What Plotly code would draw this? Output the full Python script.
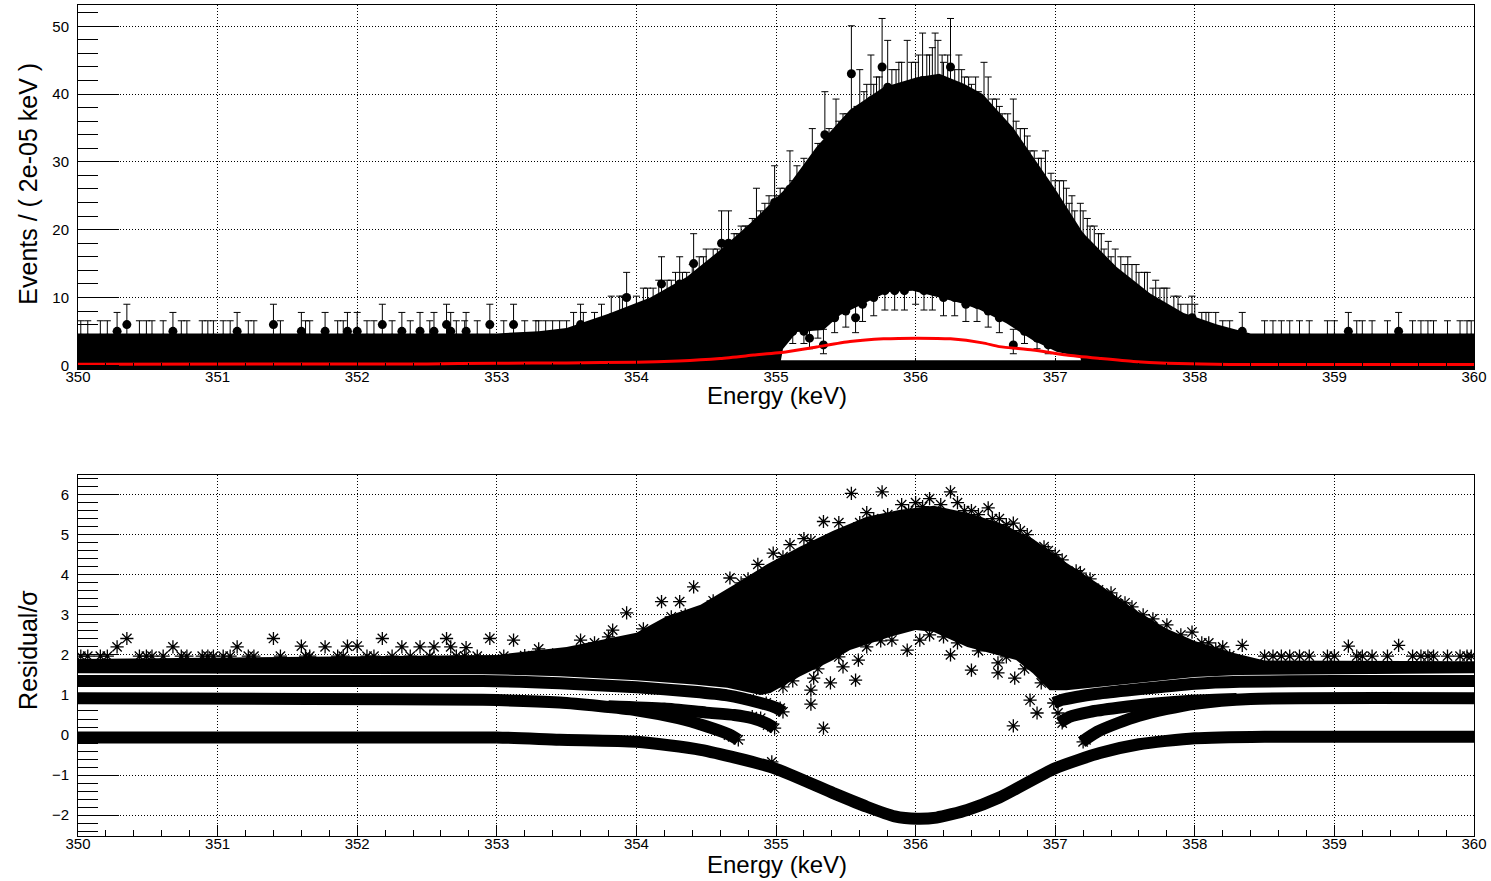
import numpy as np
import plotly.graph_objects as go

# ======================= DATA =======================
# ---- top panel: counts per 2e-05 keV bin ----
# upper envelope of the dense cloud of points + error bars
env_x = [350.0, 353.0, 353.3, 353.5, 353.8, 354.1, 354.36, 354.6, 354.84, 355.08, 355.29,
         355.53, 355.77, 356.01, 356.17, 356.35, 356.48, 356.7, 357.0, 357.2, 357.44,
         357.68, 357.92, 358.16, 358.4, 360.0]
env_y = [4.7, 4.7, 5.0, 5.5, 7.6, 10.0, 13.0, 17.0, 21.4, 26.3, 32.2,
         37.7, 41.0, 42.5, 43.0, 41.5, 40.0, 35.0, 26.0, 19.5, 14.5,
         10.6, 7.7, 6.0, 4.7, 4.7]
# lower edge of the cloud above the empty region under the peak
hole_x = [355.02, 355.05, 355.15, 355.34, 355.46, 355.65, 355.8, 355.98, 356.17, 356.32,
          356.46, 356.65, 356.84, 357.01, 357.18, 357.2]
hole_y = [-1.0, 2.4, 4.9, 5.2, 7.4, 9.3, 10.8, 11.0, 10.0, 9.2,
          8.2, 6.2, 3.7, 2.0, 1.2, -1.0]
# row of empty bins
zero_x = [350.0, 360.0]
zero_y = [0.0, 0.0]
# fitted model (red curve)
model_x = [350.0, 352.5, 353.0, 353.5, 354.0, 354.3, 354.6, 354.84, 355.08, 355.29, 355.53,
           355.77, 356.01, 356.25, 356.48, 356.6, 356.84, 357.08, 357.32, 357.56, 357.8,
           358.25, 360.0]
model_y = [0.15, 0.2, 0.3, 0.35, 0.45, 0.63, 1.0, 1.5, 2.0, 2.7, 3.5,
           3.9, 4.0, 3.9, 3.3, 2.75, 2.25, 1.5, 1.0, 0.55, 0.3,
           0.12, 0.1]
# background bins with 4 counts (comb of error-bar caps)
comb_x = [350.02, 350.07, 350.16, 350.21, 350.44, 350.49, 350.53, 350.61, 350.74, 350.78,
          350.89, 350.93, 350.97, 351.04, 351.09, 351.22, 351.26, 351.45, 351.63, 351.66,
          351.86, 351.90, 352.07, 352.12, 352.25, 352.38, 352.52, 352.71, 352.77, 352.86,
          353.05, 353.2, 353.28, 353.4, 353.5,
          358.2, 358.25, 358.5, 358.56, 358.62, 358.68, 358.75, 358.82, 358.95, 359.0,
          359.16, 359.2, 359.27, 359.38, 359.56, 359.62, 359.67, 359.71, 359.81, 359.9,
          359.95, 359.98]
comb_n = [4, 4, 4, 4, 4, 4, 4, 4, 4, 4,
          4, 4, 4, 4, 4, 4, 4, 4, 4, 4,
          4, 4, 4, 4, 4, 4, 4, 4, 4, 4,
          4, 4, 4, 4, 4,
          4, 4, 4, 4, 4, 4, 4, 4, 4, 4,
          4, 4, 4, 4, 4, 4, 4, 4, 4, 4,
          4, 4]
comb_res = [1.97, 1.97, 1.97, 1.97, 1.97, 1.97, 1.97, 1.97, 1.97, 1.97,
            1.97, 1.97, 1.97, 1.97, 1.97, 1.97, 1.97, 1.97, 1.97, 1.97,
            1.97, 1.97, 1.97, 1.97, 1.97, 1.97, 1.97, 1.97, 1.97, 1.97,
            1.97, 1.98, 1.98, 2.0, 2.0,
            1.98, 1.98, 1.97, 1.97, 1.97, 1.97, 1.97, 1.97, 1.97, 1.97,
            1.97, 1.97, 1.97, 1.97, 1.97, 1.97, 1.97, 1.97, 1.97, 1.97,
            1.97, 1.97]
# background bins with 5-6 counts
bg_x = [350.28, 350.35, 350.68, 351.14, 351.40, 351.60, 351.77, 351.93, 352.00, 352.18,
        352.32, 352.45, 352.55, 352.64, 352.67, 352.78, 352.95, 358.34, 359.10, 359.46]
bg_n = [5, 6, 5, 5, 6, 5, 5, 5, 5, 6,
        5, 5, 5, 6, 5, 5, 6, 5, 5, 5]
bg_res = [2.2, 2.41, 2.2, 2.2, 2.41, 2.22, 2.2, 2.22, 2.22, 2.41,
          2.2, 2.2, 2.2, 2.41, 2.2, 2.18, 2.41, 2.24, 2.22, 2.24]
# points on the outer edge of the peak (isolated high ones)
edge_x = [353.12, 353.6, 353.82, 353.93, 354.18, 354.31, 354.41, 354.61, 354.66, 354.86,
          354.99, 355.1, 355.26, 355.35, 355.43, 355.54, 355.6, 355.68, 355.76, 355.8,
          355.94, 356.05, 356.14, 356.16, 356.25, 356.31, 356.35, 356.49, 356.52, 356.7,
          356.78, 356.82, 356.93, 357.06, 357.18, 357.31, 357.43, 357.64, 357.7, 357.98]
edge_n = [6, 6, 7, 10, 12, 12, 15, 18, 18, 21,
          24, 26, 29, 34, 33, 43, 37, 39, 44, 41,
          41, 42, 42, 41, 44, 39, 36, 38, 36, 33,
          29, 26, 26, 22, 19, 15, 13, 10, 8, 7]
# points forming the ragged outer edge of the peak
flank_x = [353.3, 353.45, 353.55, 353.7, 353.75, 353.88, 354.0, 354.05, 354.12, 354.22,
           354.28, 354.36, 354.45, 354.5, 354.55, 354.7, 354.75, 354.8, 354.92, 354.95,
           355.03, 355.15, 355.2, 355.3, 355.38, 355.48, 355.65, 355.72, 355.86, 355.9,
           356.0, 356.08, 356.2, 356.28, 356.4, 356.45, 356.58, 356.62, 356.75, 356.88,
           357.0, 357.1, 357.14, 357.25, 357.35, 357.4, 357.5, 357.55, 357.6, 357.75,
           357.8, 357.85, 357.9, 358.05, 358.1, 358.15,
           353.35, 353.62, 353.9, 354.08, 354.16, 354.25, 354.33, 354.4, 354.48, 354.58,
           354.63, 354.72, 354.78, 354.83, 354.89, 354.97, 355.0, 355.06, 355.12, 355.18,
           355.23, 355.33, 355.4, 355.45, 355.51, 355.58, 355.63, 355.7, 355.74, 355.83,
           355.88, 355.97, 356.02, 356.1, 356.12, 356.19, 356.23, 356.33, 356.38, 356.43,
           356.55, 356.6, 356.66, 356.72, 356.8, 356.85, 356.9, 356.97, 357.03, 357.08,
           357.12, 357.2, 357.23, 357.28, 357.33, 357.38, 357.47, 357.52, 357.58, 357.66,
           357.72, 357.78, 357.88, 357.95, 358.0, 358.08]
flank_n = [4, 4, 5, 5, 6, 7, 7, 8, 8, 9,
           10, 10, 12, 13, 13, 15, 16, 16, 19, 20,
           21, 24, 25, 27, 29, 31, 35, 36, 37, 38,
           38, 39, 38, 37, 35, 34, 33, 31, 29, 25,
           22, 19, 18, 16, 13, 12, 11, 11, 10, 8,
           8, 7, 6, 5, 5, 5,
           4, 5, 7, 8, 9, 9, 10, 11, 12, 13,
           14, 15, 16, 17, 18, 19, 20, 21, 22, 23,
           24, 27, 28, 30, 31, 32, 34, 35, 36, 37,
           38, 38, 39, 39, 40, 39, 39, 37, 36, 36,
           33, 32, 31, 30, 28, 26, 25, 23, 22, 21,
           20, 18, 17, 16, 15, 14, 12, 12, 11, 10,
           9, 8, 7, 6, 6, 5]
# points on the lower edge of the cloud, above the empty region
inner_x = [355.12, 355.2, 355.24, 355.3, 355.34, 355.42, 355.5, 355.57, 355.62, 355.7,
           355.78, 355.85, 355.92, 356.0, 356.06, 356.12, 356.2, 356.28, 356.36, 356.44,
           356.52, 356.6, 356.7, 356.78, 356.87, 356.95]
inner_n = [5, 5, 4, 6, 3, 7, 8, 7, 9, 10,
           11, 11, 11, 12, 11, 11, 10, 10, 9, 9,
           8, 7, 3, 5, 4, 3]

# ---- bottom panel: residual / sigma ----
res_top_x = [350.0, 353.0, 353.5, 354.0, 354.21, 354.46, 354.7, 354.93, 355.17, 355.41,
             355.65, 355.89, 356.13, 356.37, 356.6, 356.84, 357.08, 357.32, 357.56, 357.8,
             358.0, 358.28, 358.5, 360.0]
res_top_y = [1.9, 2.0, 2.2, 2.55, 2.95, 3.25, 3.75, 4.25, 4.7, 5.1,
             5.45, 5.62, 5.72, 5.55, 5.3, 4.9, 4.3, 3.75, 3.15, 2.65,
             2.35, 2.05, 1.86, 1.84]
res_low_x = [350.0, 352.9, 353.45, 354.0, 354.41, 354.65, 354.89, 354.96, 355.17, 355.41,
             355.53, 355.82, 356.0, 356.13, 356.37, 356.53, 356.72, 356.84, 356.96, 357.08,
             357.3, 357.56, 358.0, 358.32, 360.0]
res_low_y = [1.54, 1.52, 1.47, 1.37, 1.26, 1.18, 1.0, 1.05, 1.46, 1.87,
             2.12, 2.45, 2.62, 2.57, 2.2, 2.04, 1.87, 1.54, 1.12, 1.12,
             1.2, 1.3, 1.45, 1.5, 1.54]
# empty-bin residual band
band0_x = [350.0, 353.0, 353.45, 354.0, 354.46, 354.98, 355.41, 355.65, 355.85, 356.01,
           356.15, 356.37, 356.6, 357.0, 357.32, 357.6, 358.0, 358.5, 360.0]
band0_y = [-0.06, -0.06, -0.12, -0.17, -0.37, -0.82, -1.45, -1.79, -2.03, -2.09,
           -2.06, -1.87, -1.56, -0.83, -0.45, -0.23, -0.08, -0.04, -0.04]
# 2-count band (left / right)
band2l_x = [350.0, 352.9, 353.45, 354.0, 354.41, 354.65, 354.89, 355.0, 355.05]
band2l_y = [1.35, 1.35, 1.29, 1.19, 1.08, 0.99, 0.8, 0.68, 0.58]
band2r_x = [356.99, 357.05, 357.15, 357.3, 357.56, 358.0, 358.32, 359.0, 360.0]
band2r_y = [0.8, 0.88, 0.95, 1.03, 1.13, 1.28, 1.33, 1.35, 1.35]
# 1-count bands (left / right, two branches each)
band1l_x = [350.0, 351.65, 352.9, 353.45, 354.0, 354.3, 354.5, 354.66, 354.73]
band1l_y = [0.92, 0.9, 0.88, 0.81, 0.62, 0.42, 0.22, 0.02, -0.12]
band1m_x = [353.8, 354.2, 354.5, 354.7, 354.83, 354.94, 354.99]
band1m_y = [0.72, 0.66, 0.56, 0.5, 0.42, 0.28, 0.17]
band1r_x = [357.19, 357.3, 357.45, 357.6, 357.8, 358.0, 358.4, 360.0]
band1r_y = [-0.17, 0.08, 0.3, 0.48, 0.65, 0.78, 0.9, 0.92]
band1s_x = [357.03, 357.1, 357.25, 357.45, 357.7, 358.0, 358.3]
band1s_y = [0.3, 0.45, 0.58, 0.68, 0.78, 0.86, 0.9]
# individually visible residual points
rpt_x = [353.12, 353.6, 353.83, 353.93, 354.18, 354.31, 354.41, 354.67, 354.87, 354.98,
         355.1, 355.2, 355.34, 355.45, 355.54, 355.65, 355.76, 355.9, 356.0, 356.1,
         356.25, 356.3, 356.4, 356.52, 356.6, 356.7, 356.8, 356.92, 357.0, 357.05,
         357.18, 357.31, 357.44, 357.5, 357.63, 357.8, 357.98, 358.1, 358.2,
         355.94, 356.03, 356.25, 356.4, 356.59, 356.59, 356.71, 356.82, 356.87, 356.7,
         356.99, 355.27, 355.25, 355.25, 355.34, 355.57, 355.48, 355.59, 355.83, 355.39,
         354.93, 355.03, 355.05, 354.83, 354.89, 354.94, 354.99, 354.66, 354.73, 354.97,
         357.02, 357.05, 357.2, 357.22]
rpt_y = [2.37, 2.37, 2.62, 3.05, 3.33, 3.33, 3.7, 3.92, 4.26, 4.54,
         4.75, 4.9, 5.33, 5.3, 6.03, 5.55, 6.07, 5.75, 5.8, 5.9,
         6.07, 5.8, 5.6, 5.67, 5.4, 5.29, 5.0, 4.7, 4.5, 4.37,
         4.04, 3.62, 3.37, 3.3, 3.0, 2.75, 2.57, 2.3, 2.2,
         2.12, 2.37, 2.0, 1.62, 1.8, 1.55, 1.42, 0.87, 0.55, 0.23,
         0.8, 1.42, 1.12, 0.77, 0.17, 1.37, 1.7, 1.87, 2.37, 1.3,
         0.8, 0.67, 0.58, 0.46, 0.42, 0.25, 0.17, 0.0, -0.12, -0.67,
         0.55, 0.3, -0.17, -0.12]
# residual points forming the ragged upper edge of the cloud
redge_x = [353.3, 353.7, 353.8, 354.05, 354.25, 354.35, 354.55, 354.75, 354.8, 355.05,
           355.25, 355.6, 355.7, 355.8, 355.95, 356.05, 356.18, 356.35, 356.45, 356.55,
           356.65, 356.75, 356.95, 357.15, 357.25, 357.4, 357.55, 357.7, 357.9, 358.05,
           358.15]
redge_y = [2.15, 2.3, 2.45, 2.65, 2.95, 3.0, 3.35, 3.8, 3.9, 4.45,
           4.85, 5.3, 5.4, 5.5, 5.6, 5.7, 5.75, 5.6, 5.5, 5.4,
           5.25, 5.1, 4.6, 4.1, 3.9, 3.55, 3.2, 2.9, 2.5, 2.3,
           2.15]
# residual points forming the ragged lower edge of the cloud
rlow_x = [355.05, 355.12, 355.3, 355.45, 355.65, 355.75, 356.1, 356.2, 356.3, 356.45,
          356.65, 356.78, 356.9]
rlow_y = [1.2, 1.35, 1.65, 1.95, 2.2, 2.35, 2.5, 2.45, 2.3, 2.1,
          1.95, 1.65, 1.3]

# ======================= FIGURE =======================
TOP_DOM = [0.562, 1.0]
BOT_DOM = [0.0, 0.4344]
FONT = "Liberation Sans, Arial, sans-serif"

fig = go.Figure()


def poisson_err(n):
    n = np.asarray(n, dtype=float)
    hi = 0.5 + np.sqrt(n + 0.25)
    lo = -0.5 + np.sqrt(n + 0.25)
    return hi, lo


# --- top panel ---
poly_x = env_x + [360.0] + hole_x[::-1] + [350.0]
poly_y = env_y + [-1.0] + hole_y[::-1] + [-1.0]
fig.add_trace(go.Scatter(x=poly_x, y=poly_y, fill="toself", fillcolor="black",
                         mode="lines", line=dict(width=0, color="black"),
                         hoverinfo="skip", showlegend=False, xaxis="x", yaxis="y"))
fig.add_trace(go.Scatter(x=zero_x, y=zero_y, mode="lines", line=dict(color="black", width=10),
                         showlegend=False, xaxis="x", yaxis="y"))

for xs, ns in [(comb_x, comb_n), (bg_x, bg_n), (flank_x, flank_n), (edge_x, edge_n),
               (inner_x, inner_n)]:
    hi, lo = poisson_err(ns)
    fig.add_trace(go.Scatter(
        x=xs, y=ns, mode="markers",
        marker=dict(symbol="circle", size=9, color="black"),
        error_y=dict(type="data", symmetric=False, array=hi, arrayminus=lo,
                     color="black", thickness=1, width=3.5),
        showlegend=False, xaxis="x", yaxis="y"))

fig.add_trace(go.Scatter(x=model_x, y=model_y, mode="lines",
                         line=dict(color="#ff0000", width=3, shape="spline", smoothing=0.6),
                         showlegend=False, xaxis="x", yaxis="y"))

# --- bottom panel ---
rpoly_x = res_top_x + res_low_x[::-1]
rpoly_y = res_top_y + res_low_y[::-1]
fig.add_trace(go.Scatter(x=rpoly_x, y=rpoly_y, fill="toself", fillcolor="black",
                         mode="lines", line=dict(width=0, color="black"),
                         hoverinfo="skip", showlegend=False, xaxis="x2", yaxis="y2"))
for bx, by in [(band0_x, band0_y), (band2l_x, band2l_y), (band2r_x, band2r_y),
               (band1l_x, band1l_y), (band1m_x, band1m_y), (band1r_x, band1r_y),
               (band1s_x, band1s_y)]:
    fig.add_trace(go.Scatter(x=bx, y=by, mode="lines",
                             line=dict(color="black", width=12, shape="spline", smoothing=0.6),
                             showlegend=False, xaxis="x2", yaxis="y2"))
ast = dict(symbol="asterisk-open", size=11, color="black", line=dict(color="black", width=1.3))
for xs, ys in [(comb_x, comb_res), (bg_x, bg_res), (rpt_x, rpt_y), (redge_x, redge_y),
               (rlow_x, rlow_y)]:
    fig.add_trace(go.Scatter(x=xs, y=ys, mode="markers", marker=ast,
                             showlegend=False, xaxis="x2", yaxis="y2"))

# --- axes ---
grid = dict(showgrid=True, gridcolor="black", gridwidth=1, griddash="1px,2px")
xcommon = dict(range=[350, 360], tick0=350, dtick=1, ticks="inside", ticklen=11,
               tickwidth=1, tickcolor="black", showline=True, linecolor="black",
               linewidth=1, mirror=True, zeroline=False, ticklabelstandoff=-6,
               tickfont=dict(family=FONT, size=15, color="black"),
               minor=dict(ticks="inside", ticklen=6, tickwidth=1, tickcolor="black",
                          tick0=350, dtick=0.2, showgrid=False),
               **grid)
ycommon = dict(ticks="inside", ticklen=41, tickwidth=1, tickcolor="black",
               showline=True, linecolor="black", linewidth=1, mirror=True,
               zeroline=False, ticklabelstandoff=5,
               tickfont=dict(family=FONT, size=15, color="black"),
               **grid)

fig.update_layout(
    width=1491, height=881,
    margin=dict(l=78, r=17, t=5, b=45),
    paper_bgcolor="white", plot_bgcolor="white",
    xaxis=dict(domain=[0, 1], anchor="y", **xcommon),
    yaxis=dict(domain=TOP_DOM, anchor="x", range=[-0.55, 53.14], tick0=0, dtick=10,
               minor=dict(ticks="inside", ticklen=20, tickwidth=1, tickcolor="black",
                          tick0=0, dtick=2, showgrid=False),
               **ycommon),
    xaxis2=dict(domain=[0, 1], anchor="y2", **xcommon),
    yaxis2=dict(domain=BOT_DOM, anchor="x2", range=[-2.52, 6.49], tick0=0, dtick=1,
                minor=dict(ticks="inside", ticklen=20, tickwidth=1, tickcolor="black",
                           tick0=0, dtick=0.2, showgrid=False),
                **ycommon),
    showlegend=False,
    annotations=[
        dict(text="Energy (keV)", xref="paper", yref="paper", x=0.5004, y=0.5295,
             xanchor="center", yanchor="middle", showarrow=False,
             font=dict(family=FONT, size=24, color="black")),
        dict(text="Energy (keV)", xref="paper", yref="paper", x=0.5004, y=-0.0337,
             xanchor="center", yanchor="middle", showarrow=False,
             font=dict(family=FONT, size=24, color="black")),
        dict(text="Events / ( 2e-05 keV )", xref="paper", yref="paper", x=-0.0358, y=0.785,
             xanchor="center", yanchor="middle", showarrow=False, textangle=-90,
             font=dict(family=FONT, size=25, color="black")),
        dict(text="Residual/σ", xref="paper", yref="paper", x=-0.0358, y=0.224,
             xanchor="center", yanchor="middle", showarrow=False, textangle=-90,
             font=dict(family=FONT, size=25, color="black")),
    ],
)

fig.write_html("out.html",
               config={"displayModeBar": False},
               post_script="document.body.style.margin='0px';document.body.style.overflow='hidden';")
